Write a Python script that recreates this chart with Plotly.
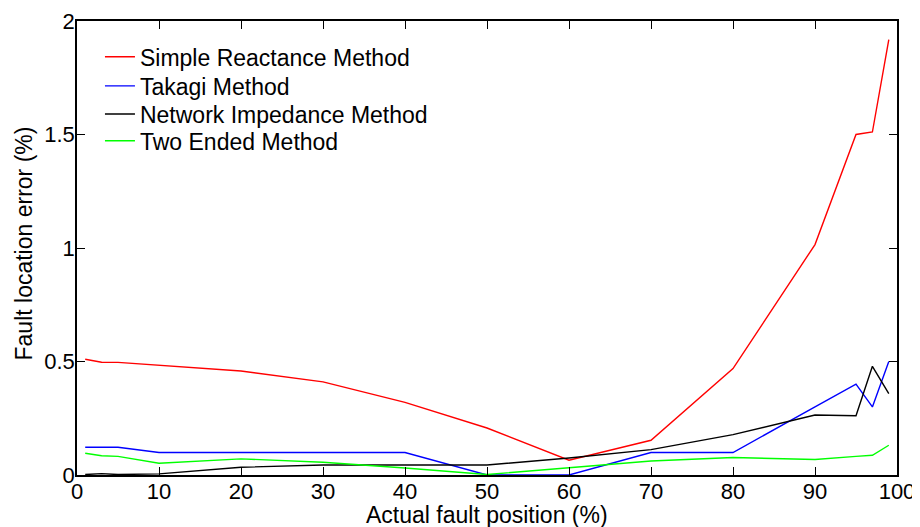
import plotly.graph_objects as go

positions = [1, 3, 5, 10, 20, 30, 40, 50, 60, 70, 80, 90, 95, 97, 99]
simple_reactance = [0.51, 0.497, 0.496, 0.483, 0.458, 0.41, 0.32, 0.207, 0.065, 0.153, 0.469, 1.015, 1.50, 1.511, 1.918]
takagi = [0.122, 0.122, 0.122, 0.099, 0.099, 0.099, 0.099, 0.0, 0.0, 0.099, 0.099, 0.30, 0.40, 0.30, 0.50]
network_impedance = [0.002, 0.006, 0.002, 0.005, 0.034, 0.044, 0.044, 0.044, 0.075, 0.112, 0.178, 0.264, 0.261, 0.479, 0.358]
two_ended = [0.096, 0.085, 0.082, 0.052, 0.071, 0.056, 0.031, 0.002, 0.032, 0.062, 0.077, 0.068, 0.082, 0.087, 0.131]

x_ticks = [0, 10, 20, 30, 40, 50, 60, 70, 80, 90, 100]
y_ticks = [0, 0.5, 1, 1.5, 2]
y_tick_labels = ["0", "0.5", "1", "1.5", "2"]

series = [
    ("Simple Reactance Method", simple_reactance, "#ff0000"),
    ("Takagi Method", takagi, "#0000ff"),
    ("Network Impedance Method", network_impedance, "#000000"),
    ("Two Ended Method", two_ended, "#00ff00"),
]
legend_ids = ["legend", "legend2", "legend3", "legend4"]
legend_rows_y = [0.921, 0.857, 0.795, 0.736]

fig = go.Figure()
for (name, vals, color), lid in zip(series, legend_ids):
    fig.add_trace(go.Scatter(x=positions, y=vals, mode="lines", name=name,
                             line=dict(color=color, width=1.4), legend=lid))

font_family = "Liberation Sans, Arial, sans-serif"
legend_common = dict(x=0.028, xanchor="left", yanchor="middle",
                     bgcolor="rgba(0,0,0,0)", font=dict(size=23))
layout_legends = {lid: dict(legend_common, y=ly) for lid, ly in zip(legend_ids, legend_rows_y)}

# the page body has an 8px margin, so the figure is offset by 8px; margins compensate
fig.update_layout(
    width=920, height=527,
    margin=dict(l=69, r=31, t=13, b=60, autoexpand=False),
    paper_bgcolor="white", plot_bgcolor="white",
    font=dict(family=font_family, size=22, color="black"),
    showlegend=True,
    xaxis=dict(range=[0, 100], tickvals=x_ticks, ticks="inside", ticklen=8,
               tickcolor="black", showline=True, linecolor="black", linewidth=1.5,
               mirror="allticks", showgrid=False, zeroline=False, automargin=False,
               tickfont=dict(size=22), ticklabelstandoff=-4),
    yaxis=dict(range=[0, 2], tickvals=y_ticks, ticktext=y_tick_labels, ticks="inside",
               ticklen=8, tickcolor="black", showline=True, linecolor="black",
               linewidth=1.5, mirror="allticks", showgrid=False, zeroline=False,
               automargin=False, tickfont=dict(size=22), ticklabelstandoff=-4),
    annotations=[
        dict(text="Actual fault position (%)", xref="paper", yref="paper",
             x=0.5, y=-0.088, xanchor="center", yanchor="middle", showarrow=False,
             font=dict(size=23)),
        dict(text="Fault location error (%)", xref="paper", yref="paper",
             x=-0.0646, y=0.51, xanchor="center", yanchor="middle", showarrow=False,
             textangle=-90, font=dict(size=23)),
    ],
    **layout_legends,
)

fig.write_html("out.html")
